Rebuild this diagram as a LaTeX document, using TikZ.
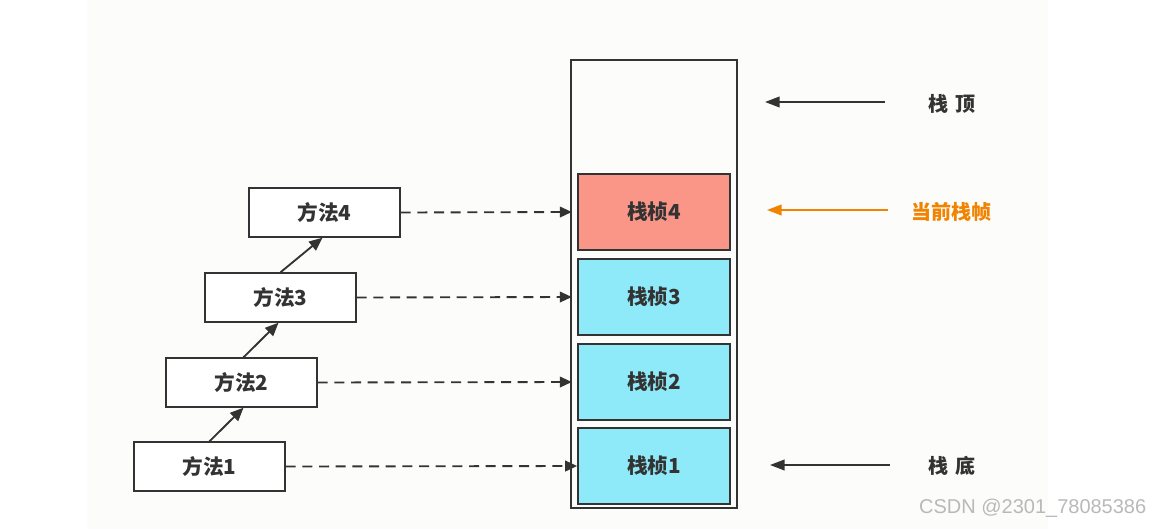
\documentclass[tikz,border=0pt]{standalone}
\usepackage{fontspec}
\newfontfamily\cjk{Noto Sans CJK SC}
\setmainfont{Liberation Sans}
\usetikzlibrary{arrows.meta}
\definecolor{frameRed}{RGB}{250,150,136}
\definecolor{frameCyan}{RGB}{142,234,248}
\definecolor{lineGray}{RGB}{51,51,51}
\definecolor{curOrange}{RGB}{240,131,0}
\definecolor{paper}{RGB}{252,252,250}
\tikzset{
  methodbox/.style={draw=lineGray, line width=1.3pt, fill=white, minimum width=113pt, minimum height=36.5pt, inner sep=0pt, font=\cjk\fontsize{15.5}{17}\selectfont\bfseries, text=lineGray},
  framebox/.style={draw=lineGray, line width=1.3pt, minimum width=114pt, minimum height=57pt, inner sep=0pt, font=\cjk\fontsize{15.5}{17}\selectfont\bfseries, text=lineGray},
  callarrow/.style={draw=lineGray, line width=1.4pt, -{Triangle[length=10pt,width=8.5pt]}},
  dasharrow/.style={draw=lineGray, line width=1.4pt, dash pattern=on 7.5pt off 5pt, -{Triangle[length=9pt,width=8pt]}},
  sidearrow/.style={line width=1.4pt, -{Triangle[length=11pt,width=8pt]}},
  sidelabel/.style={font=\cjk\fontsize{15}{17}\selectfont\bfseries, text=lineGray, anchor=center}
}
\begin{document}
\begin{tikzpicture}[x=0.75pt,y=-0.75pt]
\useasboundingbox (0,0) rectangle (1154,529);
\fill[white] (0,0) rectangle (1154,529);
\fill[paper] (87,0) rectangle (1048,529);
% stack outer
\node[draw=lineGray, line width=1.3pt, minimum width=124.5pt, minimum height=336pt, inner sep=0pt] (stack) at (654,284) {};
% frames
\node[framebox, fill=frameRed] (f4) at (654,212) {栈桢4};
\node[framebox, fill=frameCyan] (f3) at (654,297) {栈桢3};
\node[framebox, fill=frameCyan] (f2) at (654,382) {栈桢2};
\node[framebox, fill=frameCyan] (f1) at (654,466) {栈桢1};
% methods
\node[methodbox] (m4) at (324.5,212.5) {方法4};
\node[methodbox] (m3) at (280.5,297.5) {方法3};
\node[methodbox] (m2) at (241.5,382.5) {方法2};
\node[methodbox] (m1) at (209.5,466.5) {方法1};
% call arrows
\draw[callarrow] ([xshift=0pt]m1.north) -- ([xshift=1.5pt]m2.south);
\draw[callarrow] ([xshift=1.5pt]m2.north) -- ([xshift=-1.5pt]m3.south);
\draw[callarrow] ([xshift=0pt]m3.north) -- ([xshift=-1.5pt]m4.south);
% dashed arrows
\draw[dasharrow] (m4.east) -- ([xshift=-4pt]f4.west);
\draw[dasharrow] (m3.east) -- ([xshift=-4pt]f3.west);
\draw[dasharrow] (m2.east) -- ([xshift=-4pt]f2.west);
\draw[dasharrow] (m1.east) -- (f1.west);
% side labels
\node[sidelabel] (top) at (952,104) {栈\hspace{5pt}顶};
\node[sidelabel, text=curOrange] (cur) at (951,212) {当前栈帧};
\node[sidelabel] (bot) at (952,466) {栈\hspace{5pt}底};
\coordinate (topstart) at (885,102);
\coordinate (topend) at (765,102);
\coordinate (curstart) at (888,210);
\coordinate (curend) at (767,210);
\coordinate (botstart) at (890,465);
\coordinate (botend) at (770,465);
\draw[sidearrow, draw=lineGray] (topstart) -- (topend);
\draw[sidearrow, draw=curOrange] (curstart) -- (curend);
\draw[sidearrow, draw=lineGray] (botstart) -- (botend);
% watermark
\node[font=\fontsize{15}{17}\selectfont, text=gray!55, anchor=east] (wm) at (1151,508) {CSDN @2301\_78085386};
\end{tikzpicture}
\end{document}
